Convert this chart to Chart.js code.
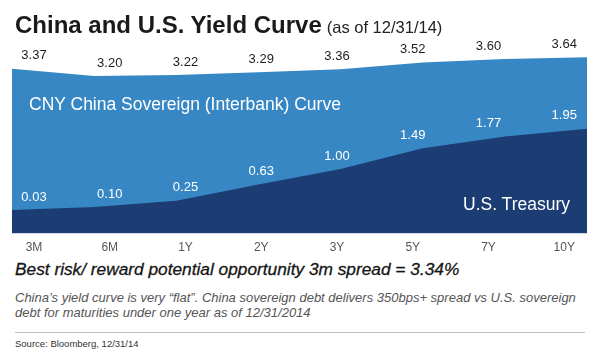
<!DOCTYPE html>
<html>
<head>
<meta charset="utf-8">
<script src="https://cdn.jsdelivr.net/npm/chart.js@4/dist/chart.umd.min.js"></script>
<style>
  html, body { margin: 0; padding: 0; background: #fff; }
  body { width: 600px; height: 354px; position: relative; overflow: hidden;
         font-family: "Liberation Sans", Arial, Helvetica, sans-serif; }
  #chart { position: absolute; left: 0; top: 30px; }
  .txt { position: absolute; line-height: 1; white-space: nowrap; }
  #title { left: 15px; top: 13px; font-size: 24px; font-weight: bold; color: #1a1a1a; }
  #title span { font-size: 16.5px; font-weight: normal; color: #222; margin-left: 5px; }
  #cny { left: 29px; top: 96px; font-size: 17.5px; color: #fff; }
  #ust { right: 30px; top: 196px; font-size: 17.5px; color: #fff; }
  #best { left: 15px; top: 261px; font-size: 17.3px; font-style: italic; color: #151515;
          -webkit-text-stroke: 0.3px #151515; }
  #note { position: absolute; left: 15px; top: 290px; font-size: 13px; line-height: 15px;
          font-style: italic; color: #555; white-space: nowrap; }
  #rule { position: absolute; left: 15px; top: 332px; width: 570px; height: 1px; background: #bbb; }
  #src { left: 15px; top: 339px; font-size: 9.5px; color: #333; }
</style>
</head>
<body>
<canvas id="chart" width="600" height="225"></canvas>
<div class="txt" id="title">China and U.S. Yield Curve<span>(as of 12/31/14)</span></div>
<div class="txt" id="cny">CNY China Sovereign (Interbank) Curve</div>
<div class="txt" id="ust">U.S. Treasury</div>
<div class="txt" id="best">Best risk/ reward potential opportunity 3m spread = 3.34%</div>
<div id="note">China’s yield curve is very “flat”. China sovereign debt delivers 350bps+ spread vs U.S. sovereign<br>debt for maturities under one year as of 12/31/2014</div>
<div id="rule"></div>
<div class="txt" id="src">Source: Bloomberg, 12/31/14</div>

<script>
const maturities = ['3M', '6M', '1Y', '2Y', '3Y', '5Y', '7Y', '10Y'];
const chinaYields = [3.37, 3.20, 3.22, 3.29, 3.36, 3.52, 3.60, 3.64];
const usYields = [0.03, 0.10, 0.25, 0.63, 1.00, 1.49, 1.77, 1.95];

Chart.defaults.font.family = '"Liberation Sans", Arial, Helvetica, sans-serif';

// value labels sit above each curve, at the evenly spaced tick positions
const valueLabels = {
	id: 'valueLabels',
	afterDatasetsDraw(chart) {
		const ctx = chart.ctx;
		const xs = chart.scales.x2;
		const ys = chart.scales.y;
		ctx.save();
		ctx.font = '13px "Liberation Sans", Arial, sans-serif';
		ctx.textAlign = 'center';
		ctx.textBaseline = 'middle';
		chinaYields.forEach((v, i) => {
			ctx.fillStyle = '#1e1e1e';
			ctx.fillText(v.toFixed(2), xs.getPixelForValue(i), ys.getPixelForValue(v) - 13);
		});
		usYields.forEach((v, i) => {
			ctx.fillStyle = '#ffffff';
			ctx.fillText(v.toFixed(2), xs.getPixelForValue(i), ys.getPixelForValue(v) - 13);
		});
		ctx.restore();
	}
};

const ctx = document.getElementById('chart');

const chart = new Chart(ctx, {
	type: 'line',
	data: {
		labels: maturities,
		datasets: [
			{
				label: 'U.S. Treasury',
				data: usYields,
				backgroundColor: '#1c3d73',
				borderWidth: 0,
				pointRadius: 0,
				fill: 'start',
				tension: 0,
				xAxisID: 'x',
				yAxisID: 'y'
			},
			{
				label: 'CNY China Sovereign (Interbank) Curve',
				data: chinaYields,
				backgroundColor: '#3787c4',
				borderWidth: 0,
				pointRadius: 0,
				fill: 'start',
				tension: 0,
				xAxisID: 'x',
				yAxisID: 'y'
			}
		]
	},
	options: {
		responsive: false,
		animation: false,
		devicePixelRatio: 1,
		layout: { padding: { left: 12, right: 13, top: 10, bottom: 1 } },
		plugins: {
			legend: { display: false },
			tooltip: { enabled: false }
		},
		scales: {
			x: {
				type: 'category',
				offset: false,
				display: false
			},
			x2: {
				type: 'linear',
				position: 'bottom',
				min: -0.29,
				max: 7.30,
				afterBuildTicks: (axis) => {
					axis.ticks = maturities.map((m, i) => ({ value: i }));
				},
				grid: { display: false },
				border: { display: false },
				ticks: {
					autoSkip: false,
					maxRotation: 0,
					padding: -1,
					color: '#555',
					font: { size: 12 },
					callback: (v) => maturities[v]
				}
			},
			y: {
				min: -0.53,
				max: 4.05,
				display: false
			}
		}
	},
	plugins: [valueLabels]
});
</script>
</body>
</html>
